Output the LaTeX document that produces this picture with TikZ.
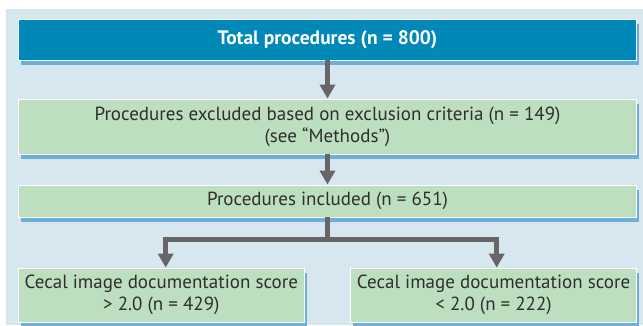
\documentclass[tikz,border=0pt]{standalone}
\usepackage{fontspec}
\setmainfont{PT Sans}
\usetikzlibrary{arrows.meta,shadows}
\definecolor{panelbg}{HTML}{D6E7F0}
\definecolor{titleblue}{HTML}{0088B9}
\definecolor{boxgreen}{HTML}{BDDFBF}
\definecolor{shadowblue}{HTML}{62AAD3}
\definecolor{arrowgray}{HTML}{666666}
\definecolor{textgray}{HTML}{2E2E2E}
\tikzset{
	flowbox/.style={draw=white,line width=0.8pt,fill=boxgreen,text=textgray,inner sep=0pt,align=center,
		font=\fontsize{19}{22}\selectfont,
		drop shadow={shadow xshift=2.5pt,shadow yshift=-4.5pt,fill=shadowblue,opacity=0.9}},
	titlebox/.style={flowbox,fill=titleblue,text=white,font=\fontsize{19.5}{22}\selectfont\bfseries},
	flowarrow/.style={draw=arrowgray,line width=5pt,-{Triangle[length=14pt,width=15pt]}}
}
\begin{document}
\begin{tikzpicture}[x=1pt,y=-1pt]
	\useasboundingbox (0,0) rectangle (643,325);
	%panel
	\fill[panelbg] (6,9) rectangle (643,325);
	%boxes
	\node[titlebox,minimum width=618pt,minimum height=41pt] (total) at (327.5,39.5) {Total procedures (n = 800)};
	\node[flowbox,minimum width=618pt,minimum height=55pt] (excluded) at (327.5,126.5)
		{Procedures excluded based on exclusion criteria (n = 149)\\(see “Methods”)};
	\node[flowbox,minimum width=618pt,minimum height=32pt] (included) at (327.5,201) {Procedures included (n = 651)};
	\node[flowbox,minimum width=285.5pt,minimum height=54pt] (high) at (161.3,295)
		{Cecal image documentation score\\> 2.0 (n = 429)};
	\node[flowbox,minimum width=286pt,minimum height=54pt] (low) at (493.6,295)
		{Cecal image documentation score\\< 2.0 (n = 222)};
	%connectors
	\coordinate (split) at (327.5,239);
	\draw[flowarrow] (total) -- (excluded);
	\draw[flowarrow] (excluded) -- (included);
	\draw[draw=arrowgray,line width=5pt] (included) -- (split);
	\draw[flowarrow,line join=miter] (split) -| ([xshift=4.4pt]high.north);
	\draw[flowarrow,line join=miter] (split) -| ([xshift=3.1pt]low.north);
\end{tikzpicture}
\end{document}
